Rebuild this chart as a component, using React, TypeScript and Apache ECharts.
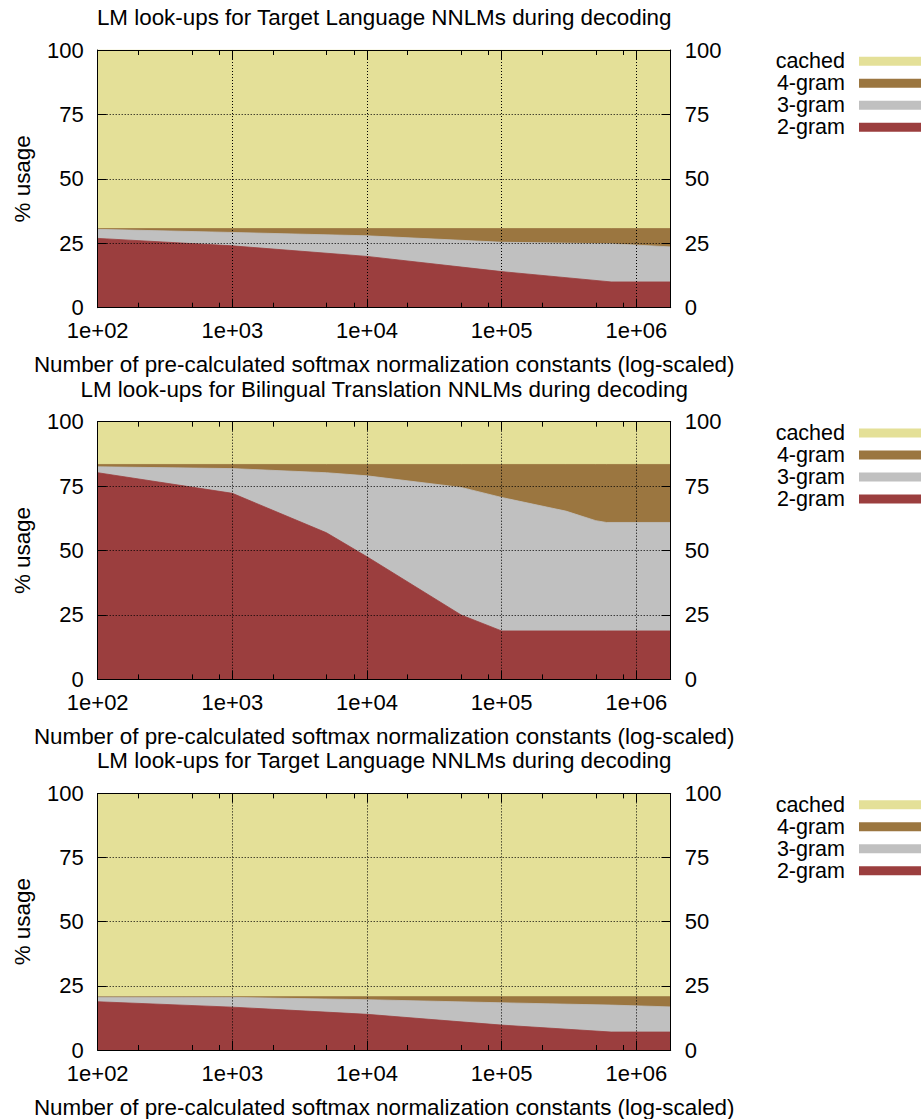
import React, { useEffect, useRef } from 'react';
import * as echarts from 'echarts';

// ---------- data ----------
const TITLES = [
  'LM look-ups for Target Language NNLMs during decoding',
  'LM look-ups for Bilingual Translation NNLMs during decoding',
  'LM look-ups for Target Language NNLMs during decoding',
];
const X_LABEL = 'Number of pre-calculated softmax normalization constants (log-scaled)';
const Y_LABEL = '% usage';

// stacking order, bottom to top
const SERIES_NAMES = ['2-gram', '3-gram', '4-gram', 'cached'];
const LEGEND_ORDER = ['cached', '4-gram', '3-gram', '2-gram'];

const X_MIN = 100;
const X_MAX = 1.8e6;
const Y_MIN = 0;
const Y_MAX = 100;
const Y_STEP = 25;
const MINOR_X_TICKS = [
  200, 500, 800, 2000, 5000, 8000, 20000, 50000, 80000, 200000, 500000, 800000,
];

// Panel 1: Target Language NNLMs
const P1_X = [100, 1000, 10000, 100000, 650000, 1800000];
const P1_2GRAM = [26.9, 24.0, 19.9, 14.0, 10.0, 10.0];
const P1_3GRAM = [3.5, 5.2, 8.0, 11.4, 14.8, 13.6];
const P1_4GRAM = [0.3, 1.5, 2.8, 5.3, 5.9, 7.1];
const P1_CACHED = [69.3, 69.3, 69.3, 69.3, 69.3, 69.3];

// Panel 2: Bilingual Translation NNLMs
const P2_X = [100, 1000, 5000, 10000, 50000, 100000, 300000, 500000, 600000, 1800000];
const P2_2GRAM = [80.2, 72.2, 56.9, 47.6, 25.0, 18.8, 18.8, 18.8, 18.8, 18.8];
const P2_3GRAM = [2.3, 9.6, 23.3, 31.4, 49.5, 51.8, 46.5, 42.8, 42.1, 42.1];
const P2_4GRAM = [0.9, 1.6, 3.2, 4.4, 8.9, 12.8, 18.1, 21.8, 22.5, 22.5];
const P2_CACHED = [16.6, 16.6, 16.6, 16.6, 16.6, 16.6, 16.6, 16.6, 16.6, 16.6];

// Panel 3: Target Language NNLMs
const P3_X = [100, 1000, 10000, 100000, 650000, 1800000];
const P3_2GRAM = [18.8, 16.7, 13.9, 9.7, 7.0, 7.0];
const P3_3GRAM = [1.8, 3.8, 5.7, 8.7, 10.5, 9.8];
const P3_4GRAM = [0.2, 0.3, 1.2, 2.4, 3.3, 4.0];
const P3_CACHED = [79.2, 79.2, 79.2, 79.2, 79.2, 79.2];

const PANELS = [
  { x: P1_X, values: [P1_2GRAM, P1_3GRAM, P1_4GRAM, P1_CACHED] },
  { x: P2_X, values: [P2_2GRAM, P2_3GRAM, P2_4GRAM, P2_CACHED] },
  { x: P3_X, values: [P3_2GRAM, P3_3GRAM, P3_4GRAM, P3_CACHED] },
];

// ---------- style ----------
const COLORS: Record<string, string> = {
  '2-gram': '#9b3e3e',
  '3-gram': '#c0c0c0',
  '4-gram': '#9b7640',
  cached: '#e4e098',
};
const FONT = '"Liberation Sans", Arial, Helvetica, sans-serif';
const FS = 22;
const FS_TITLE = 22.4;
const GRID_LEFT = 97.7;
const GRID_WIDTH = 573;
const GRID_HEIGHT = 257.7;
const GRID_TOPS = [50, 421.7, 793.4];
const TITLE_OFFSET = -32.5;
const LEGEND_OFFSET = 0.3;

function fmtX(v: number): string {
  const e = Math.log10(v);
  const r = Math.round(e);
  if (Math.abs(e - r) > 1e-6) return '';
  return '1e+' + String(r).padStart(2, '0');
}

const black = '#000';
const dotted = { color: '#000', width: 1, type: [1, 2] as any };

function buildOption() {
  const grid: any[] = [];
  const xAxis: any[] = [];
  const yAxis: any[] = [];
  const series: any[] = [];
  const legend: any[] = [];
  const graphic: any[] = [];

  PANELS.forEach((panel, p) => {
    const top = GRID_TOPS[p];
    grid.push({ left: GRID_LEFT, top, width: GRID_WIDTH, height: GRID_HEIGHT, containLabel: false });

    const baseX = {
      type: 'log',
      logBase: 10,
      gridIndex: p,
      min: X_MIN,
      max: X_MAX,
      z: 5,
      silent: true,
    };
    // bottom major
    xAxis.push({
      ...baseX,
      position: 'bottom',
      axisLine: { show: true, onZero: false, lineStyle: { color: black, width: 1 } },
      axisTick: { show: true, inside: true, length: 9, lineStyle: { color: black, width: 1 } },
      axisLabel: {
        show: true,
        formatter: fmtX,
        margin: 12,
        fontSize: FS,
        fontFamily: FONT,
        color: black,
        showMaxLabel: false,
      },
      splitLine: { show: true, lineStyle: dotted },
      name: X_LABEL,
      nameLocation: 'middle',
      nameGap: 46,
      nameTextStyle: { fontSize: FS_TITLE, fontFamily: FONT, color: black },
    });
    // bottom minor
    xAxis.push({
      ...baseX,
      position: 'bottom',
      axisLine: { show: false, onZero: false },
      axisTick: { show: true, inside: true, length: 5, customValues: MINOR_X_TICKS, lineStyle: { color: black, width: 1 } },
      axisLabel: { show: false },
      splitLine: { show: false },
    });
    // top major
    xAxis.push({
      ...baseX,
      position: 'top',
      axisLine: { show: true, onZero: false, lineStyle: { color: black, width: 1 } },
      axisTick: { show: true, inside: true, length: 9, lineStyle: { color: black, width: 1 } },
      axisLabel: { show: false },
      splitLine: { show: false },
    });
    // top minor
    xAxis.push({
      ...baseX,
      position: 'top',
      axisLine: { show: false, onZero: false },
      axisTick: { show: true, inside: true, length: 5, customValues: MINOR_X_TICKS, lineStyle: { color: black, width: 1 } },
      axisLabel: { show: false },
      splitLine: { show: false },
    });

    const baseY = {
      type: 'value',
      gridIndex: p,
      min: Y_MIN,
      max: Y_MAX,
      interval: Y_STEP,
      z: 5,
      silent: true,
      axisLine: { show: true, onZero: false, lineStyle: { color: black, width: 1 } },
      axisTick: { show: true, inside: true, length: 9, lineStyle: { color: black, width: 1 } },
      axisLabel: { show: true, margin: 14, fontSize: FS, fontFamily: FONT, color: black },
    };
    yAxis.push({
      ...baseY,
      position: 'left',
      splitLine: { show: true, lineStyle: dotted },
      name: Y_LABEL,
      nameLocation: 'middle',
      nameGap: 64,
      nameTextStyle: { fontSize: FS_TITLE, fontFamily: FONT, color: black },
    });
    yAxis.push({
      ...baseY,
      position: 'right',
      splitLine: { show: false },
    });

    // cumulative tops of each band (filled down to 0, drawn top band first)
    const cumulative: number[][] = [];
    panel.values.forEach((vals, i) => {
      cumulative.push(vals.map((v, j) => (i === 0 ? v : cumulative[i - 1][j] + v)));
    });
    for (let i = SERIES_NAMES.length - 1; i >= 0; i--) {
      const name = SERIES_NAMES[i];
      const c = COLORS[name];
      series.push({
        type: 'line',
        name,
        xAxisIndex: p * 4,
        yAxisIndex: p * 2,
        data: panel.x.map((x, j) => [x, Math.min(Y_MAX, cumulative[i][j])]),
        symbol: 'none',
        showSymbol: false,
        color: c,
        itemStyle: { color: c },
        lineStyle: { width: 0.8, color: c },
        areaStyle: { color: c, opacity: 1, origin: 'start' },
        silent: true,
        z: 2,
      });
    }

    legend.push({
      orient: 'vertical',
      right: 0,
      top: top + LEGEND_OFFSET,
      padding: 0,
      itemGap: 0,
      itemWidth: 62,
      itemHeight: 9,
      icon: 'rect',
      align: 'right',
      selectedMode: false,
      data: LEGEND_ORDER,
      textStyle: { fontSize: 21.5, fontFamily: FONT, color: black, lineHeight: 22, padding: [0, 9, 0, 0] },
    });

    graphic.push({
      type: 'text',
      x: GRID_LEFT + GRID_WIDTH / 2,
      y: top + TITLE_OFFSET,
      style: {
        text: TITLES[p],
        font: `${FS_TITLE}px ${FONT}`,
        fill: black,
        align: 'center',
        verticalAlign: 'middle',
      },
    });
  });

  return { animation: false, backgroundColor: '#fff', grid, xAxis, yAxis, series, legend, graphic };
}

export default function App() {
  const ref = useRef<HTMLDivElement>(null);
  useEffect(() => {
    if (!ref.current) return;
    const chart = echarts.init(ref.current, undefined, { renderer: 'svg' });
    chart.setOption(buildOption() as any);
    return () => chart.dispose();
  }, []);
  return (
    <div
      ref={ref}
      style={{ position: 'absolute', left: 0, top: 0, width: 921, height: 1119, background: '#fff' }}
    />
  );
}
